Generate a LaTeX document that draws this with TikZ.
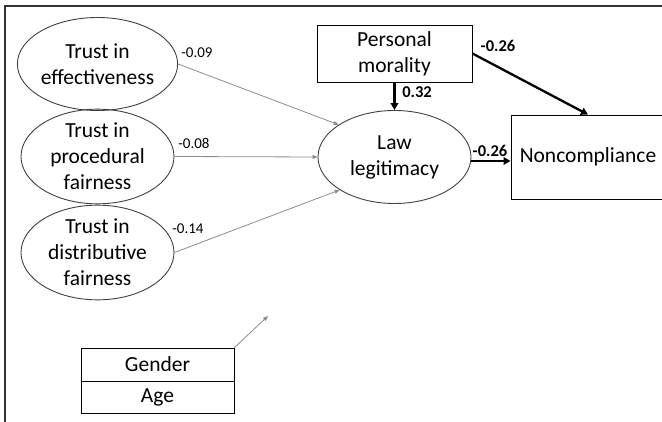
\documentclass[tikz,border=0pt]{standalone}
\usepackage{fontspec}
\setmainfont{Carlito}
\usetikzlibrary{shapes.geometric,arrows.meta}
\begin{document}
\begin{tikzpicture}[x=1pt,y=-1pt,
 ell/.style={draw=black!75, line width=0.9pt, ellipse, minimum width=153pt, minimum height=93pt, inner sep=0pt, align=center, font=\fontsize{21.5}{26}\selectfont},
 box/.style={draw=black, line width=0.9pt, rectangle, inner sep=0pt, align=center, font=\fontsize{21.5}{26}\selectfont},
 thinarr/.style={draw=black!45, line width=0.8pt, -{Triangle[length=5pt,width=4pt]}},
 thickarr/.style={draw=black, line width=2.3pt, -{Triangle[length=7pt,width=7.5pt]}},
 coef/.style={font=\fontsize{15}{18}\selectfont, inner sep=0pt},
 bcoef/.style={font=\fontsize{16.5}{18}\selectfont\bfseries, inner sep=0pt}]
\useasboundingbox (0,0) rectangle (662,422);
\clip (0,0) rectangle (662,422);
\draw[line width=1.6pt, black!80] (5,423) -- (5,6) -- (663,6);

\node[ell] (eff) at (97.5,64) {Trust in\\effectiveness};
\node[ell] (proc) at (97.5,156.5) {Trust in\\procedural\\fairness};
\node[ell] (dist) at (97.5,252.5) {Trust in\\distributive\\fairness};
\node[ell] (law) at (394.5,157) {Law\\legitimacy};
\node[box, minimum width=155pt, minimum height=57pt] (pm) at (394.5,53.5) {Personal\\morality};
\node[box, minimum width=154pt, minimum height=84pt] (nc) at (588,157) {Noncompliance};
\node[box, minimum width=153pt, minimum height=33pt] (gender) at (157.5,364.5) {Gender};
\node[box, minimum width=153pt, minimum height=32pt, anchor=north] (age) at (gender.south) {Age};
\coordinate (gtip) at (268,316);

\draw[thinarr] (eff.east) -- (law.150);
\draw[thinarr] (proc.east) -- (law.west);
\draw[thinarr] (dist.east) -- (law.211);
\draw[thinarr] (gender.north east) -- (gtip);
\draw[thickarr] (pm.south) -- (law.north);
\draw[thickarr] (pm.east) -- (nc.north);
\draw[thickarr] ([yshift=-4pt]law.east) -- ([yshift=-4pt]law.east -| nc.west);

\node[coef] (l1) at (197,53) {-0.09};
\node[coef] (l2) at (194,143) {-0.08};
\node[coef] (l3) at (188,229) {-0.14};
\node[bcoef] (l4) at (498,46) {-0.26};
\node[bcoef] (l5) at (417,92) {0.32};
\node[bcoef] (l6) at (490,151) {-0.26};
\end{tikzpicture}
\end{document}
